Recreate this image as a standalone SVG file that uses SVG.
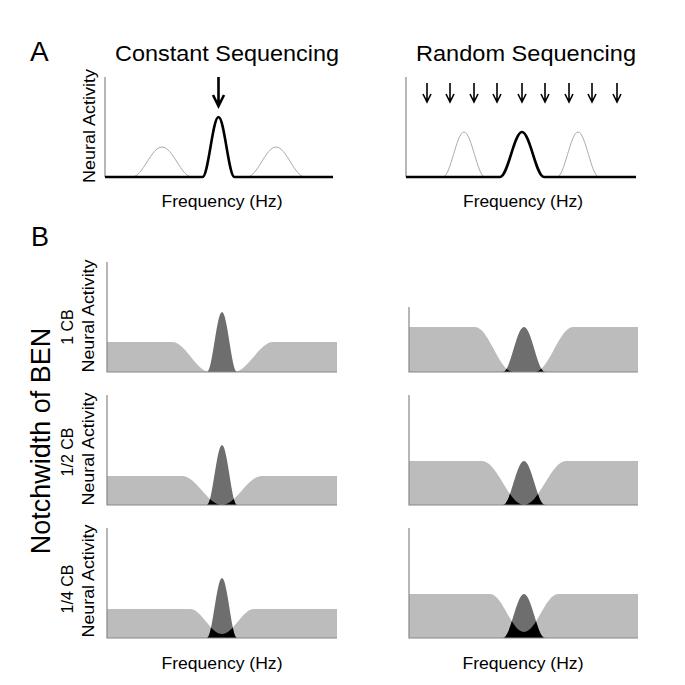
<svg xmlns="http://www.w3.org/2000/svg" width="685" height="685" viewBox="0 0 685 685">
<style>
text{font-family:"Liberation Sans",Arial,sans-serif;fill:#000}
.ttl{font-size:22px}
.lab{font-size:16px}
.frq{font-size:17px}
.cb{font-size:16px}
.big{font-size:27px}
.ax{stroke:#888;stroke-width:1.2;fill:none}
.thick{stroke:#000;stroke-width:2.6;fill:none;stroke-linejoin:round}
.ghost{stroke:#aaa;stroke-width:1;fill:none}
.noise{fill:#bcbcbc}
.peak{fill:#6e6e6e}
.ov{fill:#000}
.arr{stroke:#000;fill:none;stroke-linecap:butt}
</style>
<defs>
<path id="nL1" d="M107,372 V342 H172 C185.8,342 196.2,372 210,372 H234 C247.8,372 259.2,342 273,342 H337 V372 Z"/>
<path id="nL2" d="M107,505 V476 H182 C196.5,476 207.5,505 222,505 C236.5,505 247.5,476 262,476 H337 V505 Z"/>
<path id="nL3" d="M107,638 V609 H190 C201.6,609 210.4,634 222,634 C233.6,634 242.4,609 254,609 H337 V638 Z"/>
<path id="nR1" d="M409,372 V327 H475 C488.8,327 499.2,372 513,372 H535 C548.8,372 559.2,327 573,327 H638 V372 Z"/>
<path id="nR2" d="M409,505 V461 H482 C497.3,461 508.7,505 524,505 C539.3,505 550.7,461 566,461 H638 V505 Z"/>
<path id="nR3" d="M409,638 V594 H490 C502.4,594 511.6,632 524,632 C536.4,632 545.6,594 558,594 H638 V638 Z"/>
<path id="pL1" d="M207,372 C212.45,372 216.55,312 222,312 C227.45,312 231.55,372 237,372 Z"/>
<path id="pL2" d="M207,505 C212.45,505 216.55,445 222,445 C227.45,445 231.55,505 237,505 Z"/>
<path id="pL3" d="M207,638 C212.45,638 216.55,578 222,578 C227.45,578 231.55,638 237,638 Z"/>
<path id="pR1" d="M503,372 C510.63,372 516.37,327 524,327 C531.63,327 537.37,372 545,372 Z"/>
<path id="pR2" d="M503,505 C510.63,505 516.37,461 524,461 C531.63,461 537.37,505 545,505 Z"/>
<path id="pR3" d="M503,638 C510.63,638 516.37,594 524,594 C531.63,594 537.37,638 545,638 Z"/>
<clipPath id="cL1"><use href="#nL1"/></clipPath>
<clipPath id="cL2"><use href="#nL2"/></clipPath>
<clipPath id="cL3"><use href="#nL3"/></clipPath>
<clipPath id="cR1"><use href="#nR1"/></clipPath>
<clipPath id="cR2"><use href="#nR2"/></clipPath>
<clipPath id="cR3"><use href="#nR3"/></clipPath>
</defs>

<g id="panelA">
  <text class="big" x="30" y="61" style="font-size:28px">A</text>
  <g id="A-constant">
    <text class="ttl" x="227" y="61" text-anchor="middle" textLength="224" lengthAdjust="spacingAndGlyphs">Constant Sequencing</text>
    <line class="ax" x1="105" y1="77" x2="105" y2="177"/>
    <path class="ghost" d="M132,177 C142.9,177 151.1,147 162,147 C172.9,147 181.1,177 192,177"/>
    <path class="ghost" d="M247,177 C257.5,177 265.5,147 276,147 C286.5,147 294.5,177 305,177"/>
    <path class="thick" d="M105,177 H202.5 C208.3,177 212.7,117 218.5,117 C224.3,117 228.7,177 234.5,177 H333"/>
    <path class="arr" stroke-width="2.6" d="M218.5,77 V105 M213,95 L218.5,106 L224,95"/>
    <text class="lab" transform="translate(95,126) rotate(-90)" text-anchor="middle" textLength="114" lengthAdjust="spacingAndGlyphs">Neural Activity</text>
    <text class="frq" x="222" y="207" text-anchor="middle" textLength="121" lengthAdjust="spacingAndGlyphs">Frequency (Hz)</text>
  </g>
  <g id="A-random">
    <text class="ttl" x="526" y="61" text-anchor="middle" textLength="220" lengthAdjust="spacingAndGlyphs">Random Sequencing</text>
    <line class="ax" x1="406" y1="77" x2="406" y2="177"/>
    <path class="ghost" d="M443,177 C450.6,177 456.4,132 464,132 C471.6,132 477.4,177 485,177"/>
    <path class="ghost" d="M557,177 C564.6,177 570.4,132 578,132 C585.6,132 591.4,177 599,177"/>
    <path class="thick" d="M406,177 H500 C508,177 514,132 522,132 C530,132 536,177 544,177 H636"/>
    <g class="arr" stroke-width="1.6">
      <path d="M427,83 V101 M423,94 L427,102 L431,94"/>
      <path d="M450,83 V101 M446,94 L450,102 L454,94"/>
      <path d="M474,83 V101 M470,94 L474,102 L478,94"/>
      <path d="M497,83 V101 M493,94 L497,102 L501,94"/>
      <path d="M522,83 V101 M518,94 L522,102 L526,94"/>
      <path d="M545,83 V101 M541,94 L545,102 L549,94"/>
      <path d="M569,83 V101 M565,94 L569,102 L573,94"/>
      <path d="M592,83 V101 M588,94 L592,102 L596,94"/>
      <path d="M617,83 V101 M613,94 L617,102 L621,94"/>
    </g>
    <text class="frq" x="523" y="207" text-anchor="middle" textLength="120" lengthAdjust="spacingAndGlyphs">Frequency (Hz)</text>
  </g>
</g>

<g id="panelB">
  <text class="big" x="31" y="246">B</text>
  <text transform="translate(50,441) rotate(-90)" text-anchor="middle" style="font-size:27px">Notchwidth of BEN</text>

  <g id="B-row1-labels">
    <text class="cb" transform="translate(73,327) rotate(-90)" text-anchor="middle">1 CB</text>
    <text class="lab" transform="translate(94,316) rotate(-90)" text-anchor="middle" textLength="113" lengthAdjust="spacingAndGlyphs">Neural Activity</text>
  </g>
  <g id="B-row2-labels">
    <text class="cb" transform="translate(73,452) rotate(-90)" text-anchor="middle">1/2 CB</text>
    <text class="lab" transform="translate(94,449) rotate(-90)" text-anchor="middle" textLength="113" lengthAdjust="spacingAndGlyphs">Neural Activity</text>
  </g>
  <g id="B-row3-labels">
    <text class="cb" transform="translate(73,589) rotate(-90)" text-anchor="middle">1/4 CB</text>
    <text class="lab" transform="translate(94,581) rotate(-90)" text-anchor="middle" textLength="113" lengthAdjust="spacingAndGlyphs">Neural Activity</text>
  </g>

  <g id="B-L1">
    <use href="#nL1" class="noise"/><use href="#pL1" class="peak"/><use href="#pL1" class="ov" clip-path="url(#cL1)"/>
    <path class="ax" d="M107,262 V372 H337"/>
  </g>
  <g id="B-L2">
    <use href="#nL2" class="noise"/><use href="#pL2" class="peak"/><use href="#pL2" class="ov" clip-path="url(#cL2)"/>
    <path class="ax" d="M107,395 V505 H337"/>
  </g>
  <g id="B-L3">
    <use href="#nL3" class="noise"/><use href="#pL3" class="peak"/><use href="#pL3" class="ov" clip-path="url(#cL3)"/>
    <path class="ax" d="M107,528 V638 H337"/>
  </g>
  <g id="B-R1">
    <use href="#nR1" class="noise"/><use href="#pR1" class="peak"/><use href="#pR1" class="ov" clip-path="url(#cR1)"/>
    <path class="ax" d="M409,307 V372 H638"/>
  </g>
  <g id="B-R2">
    <use href="#nR2" class="noise"/><use href="#pR2" class="peak"/><use href="#pR2" class="ov" clip-path="url(#cR2)"/>
    <path class="ax" d="M409,395 V505 H638"/>
  </g>
  <g id="B-R3">
    <use href="#nR3" class="noise"/><use href="#pR3" class="peak"/><use href="#pR3" class="ov" clip-path="url(#cR3)"/>
    <path class="ax" d="M409,528 V638 H638"/>
  </g>

  <text class="frq" x="222" y="669" text-anchor="middle" textLength="121" lengthAdjust="spacingAndGlyphs">Frequency (Hz)</text>
  <text class="frq" x="523" y="669" text-anchor="middle" textLength="121" lengthAdjust="spacingAndGlyphs">Frequency (Hz)</text>
</g>
</svg>
